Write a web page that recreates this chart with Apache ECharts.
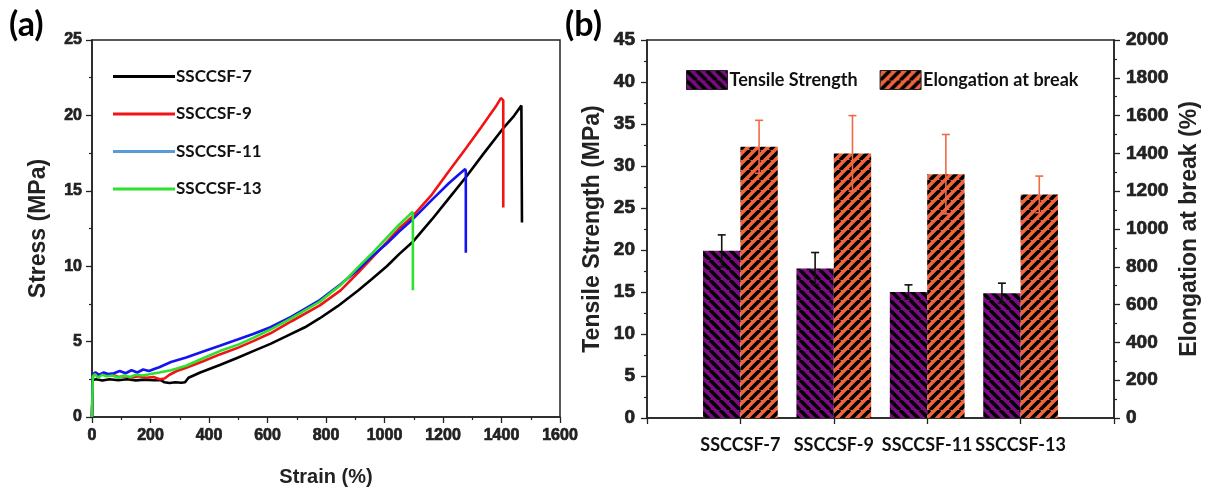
<!DOCTYPE html>
<html>
<head>
<meta charset="utf-8">
<script src="https://cdn.jsdelivr.net/npm/echarts@6/dist/echarts.min.js"></script>
<style>
  html, body { margin: 0; padding: 0; background: #fff; }
  #chart { width: 1209px; height: 493px; }
</style>
</head>
<body>
<div id="chart"></div>
<script>
// ---- (a) stress–strain curves, [strain (%), stress (MPa)] ----
const curve7 = [
  [0,0],[2,2.45],[15,2.5],[35,2.42],[60,2.5],[90,2.44],[120,2.5],[150,2.43],[180,2.48],[210,2.44],
  [235,2.45],[248,2.3],[265,2.25],[285,2.3],[305,2.27],[318,2.3],[330,2.6],[370,2.95],[437,3.45],
  [500,3.95],[551,4.37],[610,4.85],[665,5.36],[728,5.95],[779,6.55],[840,7.35],[911,8.4],[960,9.2],
  [1008,10.0],[1050,10.8],[1096,11.6],[1162,13.1],[1220,14.5],[1278,15.9],[1340,17.5],[1404,19.1],
  [1440,19.9],[1468,20.66],[1470,20.6],[1470,12.9]
];
const curve9 = [
  [0,0],[3,2.8],[12,2.95],[25,2.75],[40,2.9],[55,2.75],[70,2.8],[90,2.65],[110,2.7],[135,2.62],
  [160,2.7],[185,2.6],[210,2.65],[232,2.5],[248,2.55],[265,2.8],[290,3.05],[322,3.27],[380,3.7],
  [437,4.15],[500,4.6],[551,5.03],[610,5.55],[682,6.35],[779,7.4],[850,8.4],[911,9.6],[960,10.6],
  [1008,11.6],[1050,12.5],[1096,13.3],[1162,14.75],[1220,16.3],[1278,17.8],[1330,19.2],[1381,20.6],
  [1398,21.15],[1404,21.26],[1406,21.0],[1406,13.9]
];
const curve11 = [
  [0,0],[3,2.85],[12,2.95],[25,2.8],[40,2.95],[55,2.85],[75,2.9],[95,3.05],[115,2.9],[135,3.1],
  [155,2.95],[175,3.15],[195,3.05],[215,3.2],[230,3.3],[270,3.65],[322,3.95],[380,4.35],[437,4.72],
  [500,5.15],[551,5.5],[610,5.95],[682,6.65],[779,7.75],[850,8.8],[911,9.8],[960,10.7],[1008,11.5],
  [1050,12.3],[1096,13.1],[1162,14.4],[1220,15.5],[1255,16.1],[1276,16.44],[1278,16.3],[1278,10.9]
];
const curve13 = [
  [0,0],[3,2.7],[10,2.85],[20,2.6],[35,2.8],[50,2.7],[70,2.75],[90,2.6],[110,2.75],[130,2.65],
  [150,2.8],[175,2.75],[200,2.85],[230,2.95],[270,3.1],[322,3.4],[380,3.9],[437,4.37],[500,4.8],
  [551,5.25],[610,5.8],[682,6.55],[779,7.65],[850,8.75],[911,9.95],[960,10.9],[1008,11.9],
  [1050,12.75],[1096,13.6],[1097,13.3],[1097,8.4]
];

// ---- (b) mechanical properties per sample ----
const samples = ['SSCCSF-7', 'SSCCSF-9', 'SSCCSF-11', 'SSCCSF-13'];
const tensileStrength = [19.9, 17.8, 15.0, 14.85];      // MPa
const tensileErr      = [1.9, 1.9, 0.85, 1.2];
const elongation      = [1435, 1400, 1290, 1183];       // %
const elongationErr   = [140, 200, 210, 97];

const curves = [curve7, curve9, curve11, curve13];
const lineColors   = ['#000000', '#f01414', '#1414f0', '#2fe02f'];
const legendColors = ['#000000', '#f01414', '#5b9bd5', '#2fe02f'];

const PURPLE = '#7c0c84';
const ORANGE = '#f0643c';

// diagonal hatch tile; dir '/' or '\\'
function hatch(bg, dir) {
  const c = document.createElement('canvas');
  c.width = c.height = 10;
  const g = c.getContext('2d');
  g.fillStyle = bg;
  g.fillRect(0, 0, 10, 10);
  g.strokeStyle = '#000';
  g.lineWidth = 3.6;
  g.beginPath();
  for (const k of [-10, 0, 10]) {
    if (dir === '/') { g.moveTo(k, 10); g.lineTo(k + 10, 0); }
    else { g.moveTo(k, 0); g.lineTo(k + 10, 10); }
  }
  g.stroke();
  return { image: c, repeat: 'repeat' };
}

// category slots padded with an empty slot at each end so groups sit at 1/5 .. 4/5
const catSlots = [''].concat(samples, ['']);
const pad = arr => [null].concat(arr, [null]);

function errorBars(values, errs, side, color) {
  return {
    type: 'custom',
    xAxisIndex: 1,
    yAxisIndex: side < 0 ? 1 : 2,
    silent: true,
    z: 5,
    data: values.map((v, i) => [i + 1, v, errs[i]]),
    renderItem: function (params, api) {
      const x = api.value(0), v = api.value(1), e = api.value(2);
      const bw = api.size([1, 0])[0];
      const hi = api.coord([x, v + e]);
      const lo = api.coord([x, v - e]);
      const cx = hi[0] + side * bw * 0.2;
      const cap = 4;
      const st = { stroke: color, lineWidth: 1.6 };
      return {
        type: 'group',
        children: [
          { type: 'line', shape: { x1: cx, y1: hi[1], x2: cx, y2: lo[1] }, style: st },
          { type: 'line', shape: { x1: cx - cap, y1: hi[1], x2: cx + cap, y2: hi[1] }, style: st },
          { type: 'line', shape: { x1: cx - cap, y1: lo[1], x2: cx + cap, y2: lo[1] }, style: st }
        ]
      };
    }
  };
}

const AX = '#222';
const SANS = '"Liberation Sans", Arial, sans-serif';

// numeric tick labels: heavy sans with a thin outline of the same colour
function tickLabel(size, margin) {
  return {
    margin: margin,
    formatter: v => String(v),
    fontFamily: SANS, fontWeight: 'bold', fontSize: size, color: '#222',
    textBorderColor: '#222', textBorderWidth: 0.7
  };
}
const nameFont = { fontFamily: SANS, fontWeight: 'bold', fontSize: 23, color: '#222' };
const labelFont = { fontFamily: 'Lato', fontWeight: 'bold', fontSize: 17, color: '#111' };

const axisCommon = {
  axisLine: { show: true, lineStyle: { color: AX, width: 1.5 } },
  axisTick: { show: true, inside: false, length: 6, lineStyle: { color: AX, width: 1.3 } },
  minorTick: { show: true, splitNumber: 2, length: 3, lineStyle: { color: AX, width: 1.2 } },
  splitLine: { show: false }
};

const chart = echarts.init(document.getElementById('chart'), null, { renderer: 'canvas' });

const option = {
  backgroundColor: '#fff',
  animation: false,
  grid: [
    { left: 92, right: 649, top: 40, bottom: 76, show: true, borderColor: AX, borderWidth: 1.5, backgroundColor: 'transparent' },
    { left: 647, right: 95, top: 40, bottom: 75, show: true, borderColor: AX, borderWidth: 1.5, backgroundColor: 'transparent' }
  ],
  graphic: [
    { type: 'text', left: 9, top: 8, style: { text: '(a)', font: 'bold 34px Lato', fill: '#000' } },
    { type: 'text', left: 565, top: 8, style: { text: '(b)', font: 'bold 34px Lato', fill: '#000' } }
  ],
  legend: [
    {
      data: samples.map((n, i) => ({ name: n, itemStyle: { color: legendColors[i] } })),
      orient: 'vertical', left: 108, top: 63,
      icon: 'rect', itemWidth: 62, itemHeight: 3, itemGap: 20.5,
      selectedMode: false,
      textStyle: Object.assign({ lineHeight: 17, padding: [0, 0, 0, -4] }, labelFont)
    },
    {
      data: ['Tensile Strength', 'Elongation at break'],
      orient: 'horizontal', left: 681, top: 65,
      icon: 'rect', itemWidth: 41, itemHeight: 19, itemGap: 22,
      selectedMode: false,
      itemStyle: { borderColor: '#222', borderWidth: 1 },
      textStyle: Object.assign({ padding: [0, 0, 0, -3] }, labelFont, { fontSize: 18 })
    }
  ],
  xAxis: [
    Object.assign({}, axisCommon, {
      type: 'value', gridIndex: 0, min: 0, max: 1600, interval: 200,
      name: 'Strain (%)', nameLocation: 'middle', nameGap: 50,
      nameTextStyle: Object.assign({}, nameFont, { fontSize: 20 }),
      axisLabel: tickLabel(16, 11)
    }),
    Object.assign({}, axisCommon, {
      type: 'category', gridIndex: 1, data: catSlots, boundaryGap: false,
      minorTick: { show: false },
      axisTick: { show: true, inside: false, length: 6, interval: 0, lineStyle: { color: AX, width: 1.3 } },
      axisLabel: Object.assign({ interval: 0, margin: 18 }, labelFont, { fontSize: 18 })
    })
  ],
  yAxis: [
    Object.assign({}, axisCommon, {
      type: 'value', gridIndex: 0, min: 0, max: 25, interval: 5,
      name: 'Stress (MPa)', nameLocation: 'middle', nameGap: 42,
      nameTextStyle: nameFont,
      axisLabel: tickLabel(16, 10)
    }),
    Object.assign({}, axisCommon, {
      type: 'value', gridIndex: 1, position: 'left', min: 0, max: 45, interval: 5,
      name: 'Tensile Strength (MPa)', nameLocation: 'middle', nameGap: 43,
      nameTextStyle: nameFont,
      axisLabel: tickLabel(19, 12)
    }),
    Object.assign({}, axisCommon, {
      type: 'value', gridIndex: 1, position: 'right', min: 0, max: 2000, interval: 200,
      name: 'Elongation at break (%)', nameLocation: 'middle', nameGap: 64,
      nameTextStyle: nameFont,
      axisLabel: tickLabel(19, 12)
    })
  ],
  series: curves.map((c, i) => ({
    name: samples[i],
    type: 'line',
    xAxisIndex: 0, yAxisIndex: 0,
    data: c,
    showSymbol: false, symbol: 'none',
    lineStyle: { color: lineColors[i], width: 2.6 },
    itemStyle: { color: lineColors[i] },
    z: 3 + i
  })).concat([
    {
      name: 'Tensile Strength', type: 'bar', xAxisIndex: 1, yAxisIndex: 1,
      data: pad(tensileStrength), barWidth: '40%', barGap: '0%',
      itemStyle: { color: hatch(PURPLE, '\\') }
    },
    {
      name: 'Elongation at break', type: 'bar', xAxisIndex: 1, yAxisIndex: 2,
      data: pad(elongation), barWidth: '40%', barGap: '0%',
      itemStyle: { color: hatch(ORANGE, '/') }
    },
    errorBars(tensileStrength, tensileErr, -1, '#111'),
    errorBars(elongation, elongationErr, 1, '#ee6a48')
  ])
};

chart.setOption(option);
</script>
</body>
</html>
